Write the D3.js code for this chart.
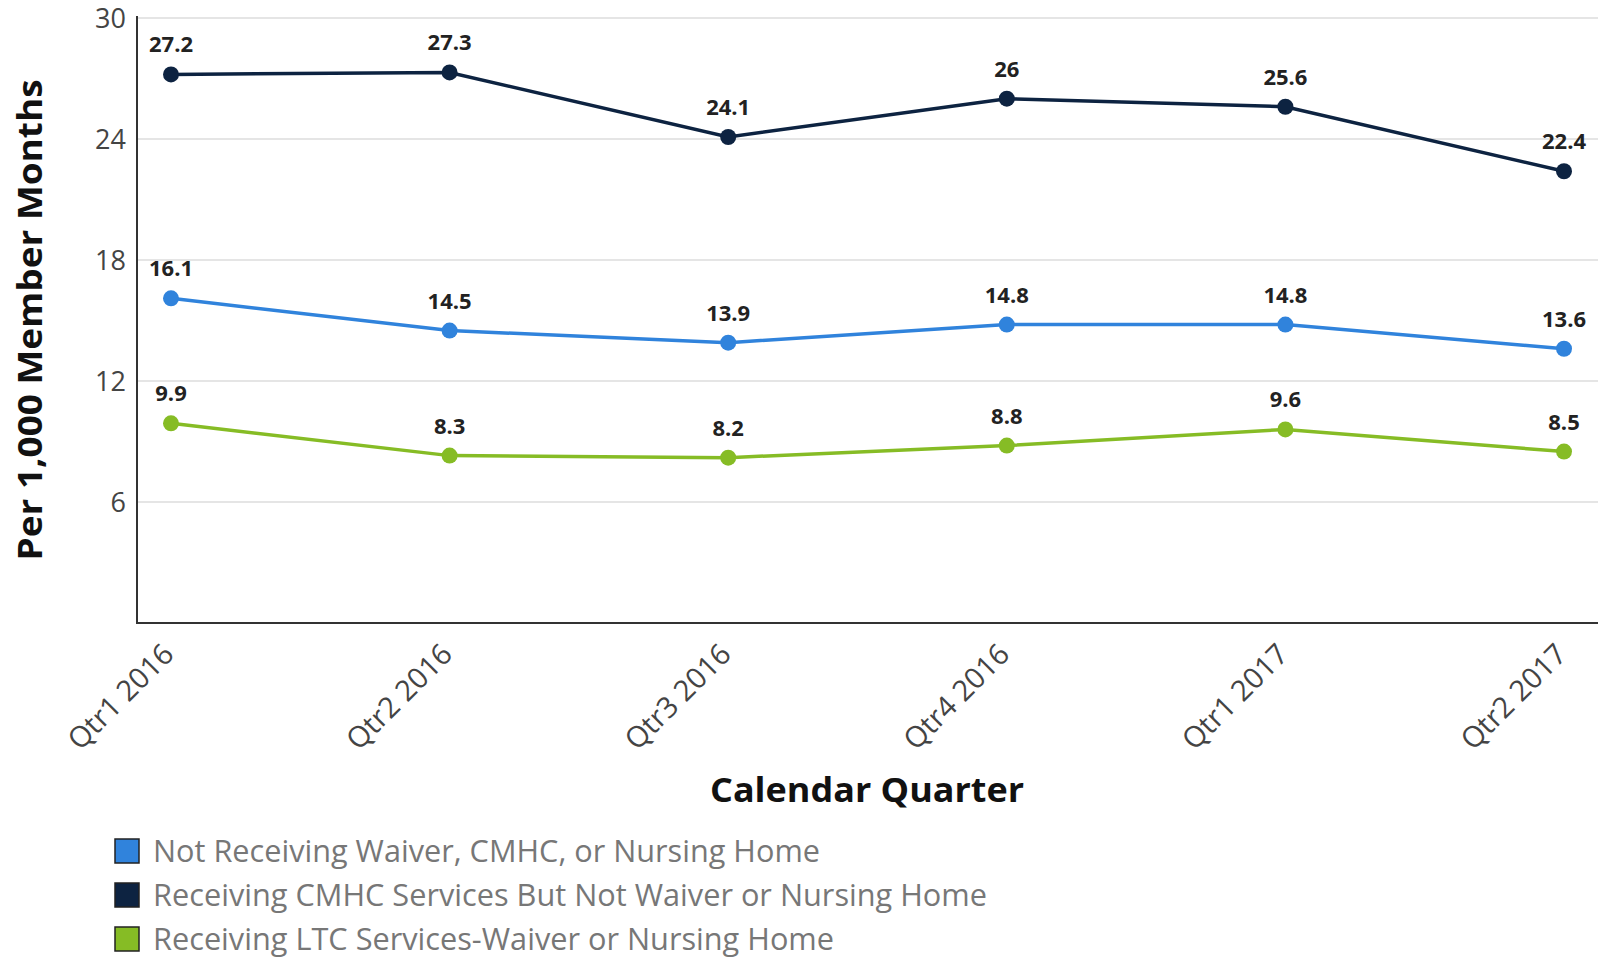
<!DOCTYPE html>
<html>
<head>
<meta charset="utf-8">
<script src="https://cdn.jsdelivr.net/npm/d3@7/dist/d3.min.js"></script>
<style>
  html, body { margin: 0; padding: 0; background: #fff; }
  svg { display: block; font-family: "Open Sans", sans-serif; }
</style>
</head>
<body>
<svg id="chart" width="1598" height="960"></svg>
<script>
// Quarterly rates per 1,000 member months, by service group
const quarters = ["Qtr1 2016", "Qtr2 2016", "Qtr3 2016", "Qtr4 2016", "Qtr1 2017", "Qtr2 2017"];
const seriesNames = [
  "Not Receiving Waiver, CMHC, or Nursing Home",
  "Receiving CMHC Services But Not Waiver or Nursing Home",
  "Receiving LTC Services-Waiver or Nursing Home"
];
const notReceiving = [16.1, 14.5, 13.9, 14.8, 14.8, 13.6];
const receivingCMHC = [27.2, 27.3, 24.1, 26, 25.6, 22.4];
const receivingLTC = [9.9, 8.3, 8.2, 8.8, 9.6, 8.5];
const yTicks = [6, 12, 18, 24, 30];
const seriesColors = ["#3083dc", "#0d2341", "#86bc25"];

const seriesList = [
  { name: seriesNames[0], values: notReceiving, color: seriesColors[0] },
  { name: seriesNames[1], values: receivingCMHC, color: seriesColors[1] },
  { name: seriesNames[2], values: receivingLTC, color: seriesColors[2] }
];

const svg = d3.select("#chart");
const plot = { left: 137, right: 1598, top: 18, bottom: 623 };

const x = d3.scalePoint().domain(quarters).range([171, 1564]);
const y = d3.scaleLinear().domain([0, 30]).range([plot.bottom, plot.top]);

// horizontal gridlines
svg.append("g")
  .selectAll("line")
  .data(yTicks)
  .join("line")
  .attr("x1", plot.left)
  .attr("x2", plot.right)
  .attr("y1", d => y(d))
  .attr("y2", d => y(d))
  .attr("stroke", "#dcdcdc")
  .attr("stroke-width", 1.5);

// y axis
const yAxis = svg.append("g")
  .attr("transform", `translate(${plot.left},0)`)
  .call(d3.axisLeft(y).tickValues(yTicks).tickSize(0).tickPadding(11).tickFormat(d3.format("d")));
yAxis.select(".domain").remove();
yAxis.selectAll("text")
  .attr("font-family", "Open Sans")
  .attr("font-size", 27)
  .attr("fill", "#444")
  .attr("dy", "0.34em");

// x axis tick labels
const xAxis = svg.append("g")
  .attr("transform", `translate(0,${plot.bottom})`)
  .call(d3.axisBottom(x).tickSize(0).tickPadding(0));
xAxis.select(".domain").remove();
xAxis.selectAll("text")
  .attr("font-family", "Open Sans")
  .attr("font-size", 29)
  .attr("fill", "#444")
  .attr("text-anchor", "end")
  .attr("dy", 0)
  .attr("transform", "translate(4,33) rotate(-45)");

// axis lines
svg.append("path")
  .attr("d", `M${plot.left},${plot.top - 2}V${plot.bottom}H${plot.right}`)
  .attr("fill", "none")
  .attr("stroke", "#333")
  .attr("stroke-width", 2);

// series lines, markers, value labels
const line = d3.line().x((d, i) => x(quarters[i])).y(d => y(d));
const groups = svg.append("g").selectAll("g").data(seriesList).join("g");

groups.append("path")
  .attr("d", d => line(d.values))
  .attr("fill", "none")
  .attr("stroke", d => d.color)
  .attr("stroke-width", 3.5);

groups.selectAll("circle")
  .data(d => d.values.map((v, i) => ({ v, i, color: d.color })))
  .join("circle")
  .attr("cx", d => x(quarters[d.i]))
  .attr("cy", d => y(d.v))
  .attr("r", 8)
  .attr("fill", d => d.color);

groups.selectAll("text.val")
  .data(d => d.values.map((v, i) => ({ v, i })))
  .join("text")
  .attr("class", "val")
  .attr("x", d => x(quarters[d.i]))
  .attr("y", d => y(d.v) - 22)
  .attr("text-anchor", "middle")
  .attr("font-family", "Open Sans")
  .attr("font-weight", 700)
  .attr("font-size", 22)
  .attr("fill", "#222")
  .text(d => String(d.v));

// axis titles
svg.append("text")
  .attr("transform", "translate(42,320) rotate(-90)")
  .attr("text-anchor", "middle")
  .attr("font-family", "Open Sans")
  .attr("font-weight", 700)
  .attr("font-size", 34)
  .attr("fill", "#111")
  .attr("textLength", 481)
  .attr("lengthAdjust", "spacingAndGlyphs")
  .text("Per 1,000 Member Months");

svg.append("text")
  .attr("x", 867)
  .attr("y", 802)
  .attr("text-anchor", "middle")
  .attr("font-family", "Open Sans")
  .attr("font-weight", 700)
  .attr("font-size", 34)
  .attr("fill", "#111")
  .attr("textLength", 314)
  .attr("lengthAdjust", "spacingAndGlyphs")
  .text("Calendar Quarter");

// legend
const legendWidths = [667, 834, 681];
const legend = svg.append("g").selectAll("g").data(seriesList).join("g")
  .attr("transform", (d, i) => `translate(115,${851 + i * 44})`);
legend.append("rect")
  .attr("x", 0)
  .attr("y", -12)
  .attr("width", 24)
  .attr("height", 24)
  .attr("fill", d => d.color)
  .attr("stroke", "#222")
  .attr("stroke-width", 1.5);
legend.append("text")
  .attr("x", 38)
  .attr("y", 0)
  .attr("dy", "0.34em")
  .attr("font-family", "Open Sans")
  .attr("font-size", 31)
  .attr("fill", "#777")
  .attr("textLength", (d, i) => legendWidths[i])
  .attr("lengthAdjust", "spacingAndGlyphs")
  .text(d => d.name);
</script>
</body>
</html>
